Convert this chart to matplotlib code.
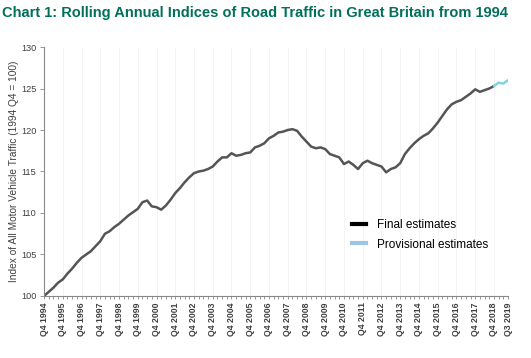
import matplotlib
matplotlib.use("Agg")
import matplotlib.pyplot as plt
from matplotlib.lines import Line2D
import numpy as np

plt.rcParams['font.family'] = ['Liberation Sans', 'DejaVu Sans']

# quarterly rolling annual index, Q4 1994 .. Q3 2019
index_values = [
    100.0,
    100.5, 101.0, 101.6, 102.0,   # 1995
    102.7, 103.3, 104.0, 104.6,   # 1996
    105.0, 105.4, 106.0, 106.6,   # 1997
    107.5, 107.8, 108.3, 108.7,   # 1998
    109.2, 109.7, 110.1, 110.5,   # 1999
    111.3, 111.5, 110.8, 110.7,   # 2000
    110.4, 110.9, 111.6, 112.4,   # 2001
    113.0, 113.7, 114.3, 114.8,   # 2002
    115.0, 115.1, 115.3, 115.6,   # 2003
    116.2, 116.7, 116.7, 117.2,   # 2004
    116.9, 117.0, 117.2, 117.3,   # 2005
    117.9, 118.1, 118.4, 119.0,   # 2006
    119.3, 119.7, 119.8, 120.0,   # 2007
    120.1, 119.9, 119.2, 118.6,   # 2008
    118.0, 117.8, 117.9, 117.7,   # 2009
    117.1, 116.9, 116.7, 115.9,   # 2010
    116.2, 115.8, 115.3, 116.0,   # 2011
    116.3, 116.0, 115.8, 115.6,   # 2012
    114.9, 115.3, 115.5, 116.0,   # 2013
    117.1, 117.8, 118.4, 118.9,   # 2014
    119.3, 119.6, 120.2, 120.9,   # 2015
    121.7, 122.5, 123.1, 123.4,   # 2016
    123.6, 124.0, 124.4, 124.9,   # 2017
    124.6, 124.8, 125.0, 125.3,   # 2018
    125.7, 125.6, 126.0,          # 2019
]
n_final = 97  # up to Q4 2018, rest provisional

tick_labels = ["Q4 %d" % y for y in range(1994, 2019)] + ["Q3 2019"]
tick_pos = list(range(0, 100, 4)) + [99]


def main():
    fig = plt.figure(figsize=(5.31, 3.58), dpi=100, facecolor='w')
    ax = fig.add_axes([0.0829, 0.1732, 0.8738, 0.6955])

    x = np.arange(len(index_values))
    ax.plot(x[:n_final], index_values[:n_final], color='#555555', lw=1.8,
            solid_capstyle='round')
    ax.plot(x[n_final - 1:], index_values[n_final - 1:], color='#7fd3e3', lw=1.8,
            solid_capstyle='round')

    ax.set_xlim(0, 99)
    ax.set_ylim(100, 130)
    ax.set_yticks(range(100, 131, 5))
    ax.set_xticks(tick_pos)
    ax.set_xticklabels(tick_labels, rotation=90, fontsize=6.3, fontweight='bold',
                       color='#404040')
    ax.set_xticks(x, minor=True)
    ax.tick_params(axis='x', which='both', length=2.5, width=0.6, color='#888888', pad=2)
    ax.tick_params(axis='y', length=3, width=0.6, color='#888888', labelsize=6.6,
                   labelcolor='#404040', pad=2.5)
    for s in ('top', 'right'):
        ax.spines[s].set_visible(False)
    for s in ('left', 'bottom'):
        ax.spines[s].set_color('#888888')
        ax.spines[s].set_linewidth(0.8)
    ax.grid(axis='x', which='major', color='#f3f3f3', lw=0.6)
    ax.set_axisbelow(True)

    ax.set_ylabel("Index of All Motor Vehicle Traffic (1994 Q4 = 100)", fontsize=7.3,
                  color='#404040')
    ax.yaxis.set_label_coords(-0.055, 0.5)

    handles = [Line2D([], [], color='black', lw=3),
               Line2D([], [], color='#9dc3e6', lw=3)]
    ax.legend(handles, ["Final estimates", "Provisional estimates"], frameon=False,
              fontsize=8.5, handlelength=1.2, handletextpad=0.9, labelspacing=0.6,
              loc='upper left', bbox_to_anchor=(0.641, 0.35))

    fig.text(0.004, 0.965, "Chart 1: Rolling Annual Indices of Road Traffic in Great Britain from 1994",
             fontsize=10.5, fontweight='bold', color='#00705a', va='center', ha='left')

    fig.savefig("out.png", dpi=100)


if __name__ == "__main__":
    main()
